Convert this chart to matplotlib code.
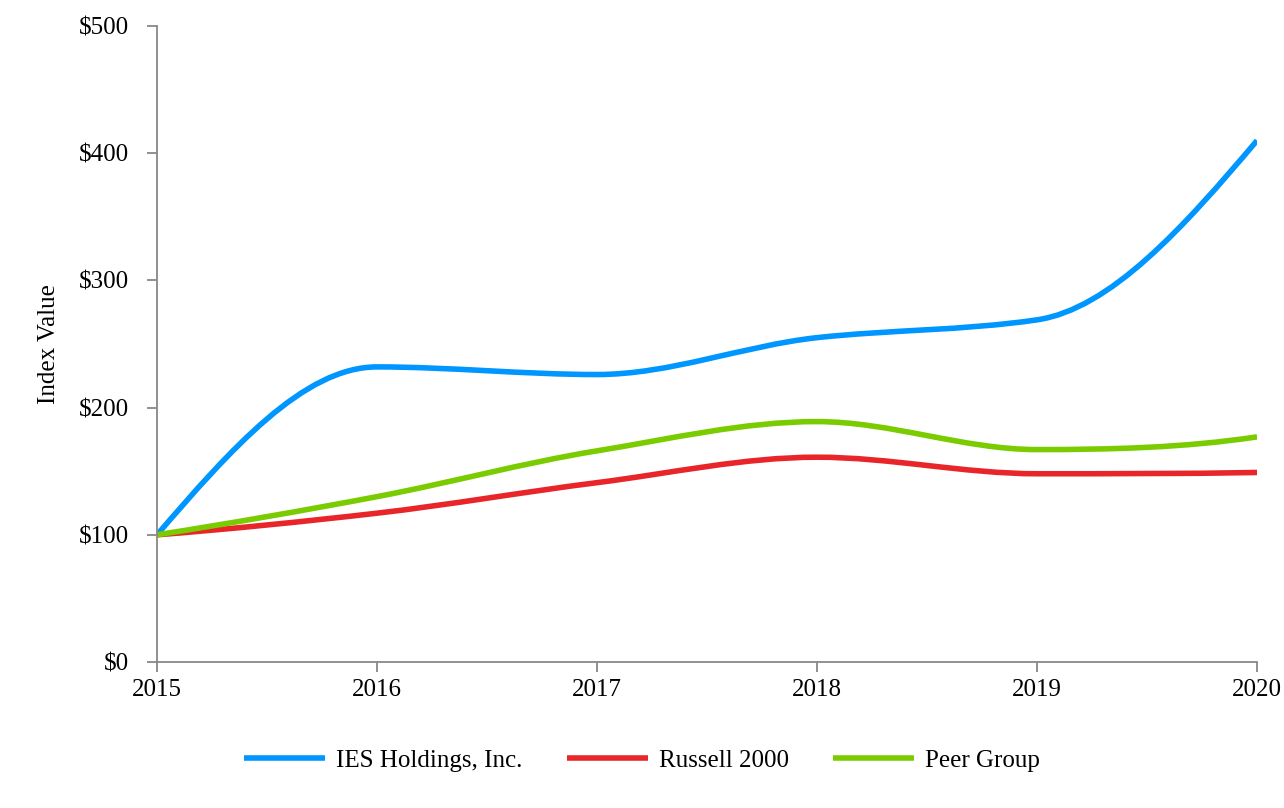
import numpy as np
import matplotlib
matplotlib.use('Agg')
import matplotlib.pyplot as plt
from matplotlib.path import Path
from matplotlib.patches import PathPatch
from matplotlib.lines import Line2D
from matplotlib.ticker import FuncFormatter

# --- data ---
years = [2015, 2016, 2017, 2018, 2019, 2020]
ies = [100, 232, 226, 255, 269, 410]
russell = [100, 117, 141, 161, 148, 149]
peer = [100, 130, 166, 189, 167, 177]

series = [
    ('IES Holdings, Inc.', ies, '#0096FF'),
    ('Russell 2000', russell, '#E8262A'),
    ('Peer Group', peer, '#7ACC00'),
]

plt.rcParams['font.family'] = ['Liberation Serif', 'DejaVu Serif']
FS = 18


def tangents(x, y):
    # shape-preserving slopes (flat at local peaks / troughs)
    x = np.asarray(x, float)
    y = np.asarray(y, float)
    h = np.diff(x)
    d = np.diff(y) / h
    m = np.zeros(len(x))
    for k in range(1, len(x) - 1):
        if d[k - 1] * d[k] > 0:
            w1 = 2 * h[k] + h[k - 1]
            w2 = h[k] + 2 * h[k - 1]
            m[k] = (w1 + w2) / (w1 / d[k - 1] + w2 / d[k])
    for k, (a, b, ha, hb) in [(0, (d[0], d[1], h[0], h[1])), (-1, (d[-1], d[-2], h[-1], h[-2]))]:
        s = ((2 * ha + hb) * a - ha * b) / (ha + hb)
        if s * a <= 0:
            s = 0
        elif a * b < 0 and abs(s) > 3 * abs(a):
            s = 3 * a
        m[k] = s
    return m


def smooth_path(x, y):
    # cubic Bezier through each data point
    x = np.asarray(x, float)
    y = np.asarray(y, float)
    m = tangents(x, y)
    verts = [(x[0], y[0])]
    codes = [Path.MOVETO]
    for i in range(len(x) - 1):
        h = x[i + 1] - x[i]
        verts += [(x[i] + h / 3, y[i] + m[i] * h / 3),
                  (x[i + 1] - h / 3, y[i + 1] - m[i + 1] * h / 3),
                  (x[i + 1], y[i + 1])]
        codes += [Path.CURVE4] * 3
    return Path(verts, codes)


fig = plt.figure(figsize=(12.84, 8.08), dpi=100)
ax = fig.add_axes([0.1223, 0.1807, 0.8567, 0.7871])

handles = []
for name, vals, color in series:
    patch = PathPatch(smooth_path(years, vals), facecolor='none', edgecolor=color,
                      lw=4.0, capstyle='butt', joinstyle='round')
    ax.add_patch(patch)
    handles.append(Line2D([], [], color=color, lw=4.0, solid_capstyle='butt'))

ax.set_xlim(2015, 2020)
ax.set_ylim(0, 500)
ax.set_xticks(years)
ax.set_yticks(range(0, 501, 100))
ax.yaxis.set_major_formatter(FuncFormatter(lambda v, p: f'${v:.0f}'))

for side in ['top', 'right']:
    ax.spines[side].set_visible(False)
for side in ['left', 'bottom']:
    ax.spines[side].set_color('#888888')
    ax.spines[side].set_linewidth(1.3)
ax.tick_params(axis='both', direction='out', length=7.5, width=1.3, color='#888888',
               labelsize=FS, labelcolor='black')
ax.tick_params(axis='y', pad=13)
ax.tick_params(axis='x', pad=5)
ax.set_ylabel('Index Value', fontsize=FS, labelpad=13)

fig.legend(handles, [s[0] for s in series], loc='center', bbox_to_anchor=(0.5, 0.059),
           ncol=3, frameon=False, fontsize=FS, handlelength=3.25, handletextpad=0.45,
           columnspacing=1.75)

fig.savefig('out.png', dpi=100)
